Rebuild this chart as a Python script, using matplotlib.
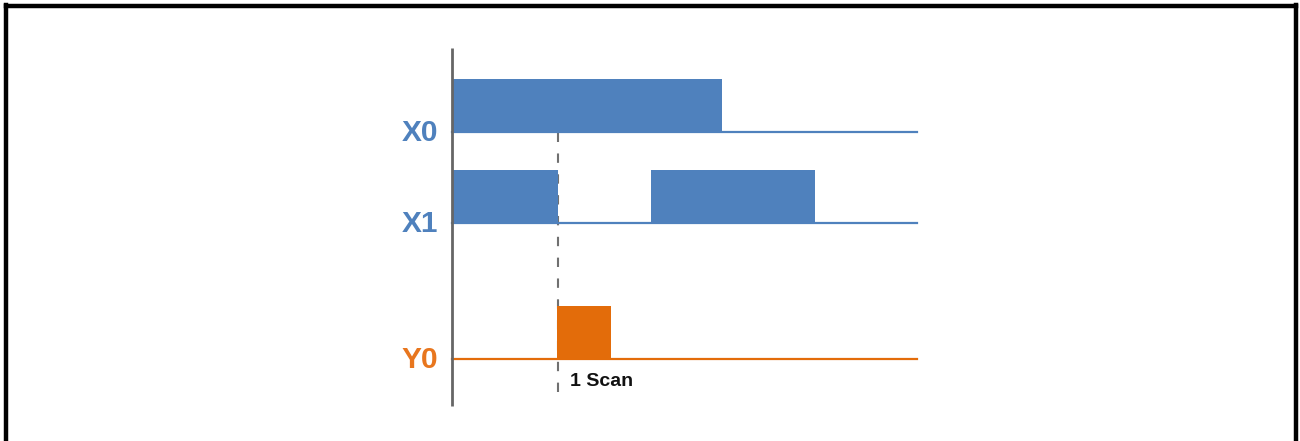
"""
Diagrama de tiempos: X0, X1 y salida Y0 (pulso de 1 scan).
"""

import matplotlib.pyplot as plt
from matplotlib.lines import Line2D

# Señales (tiempo en unidades arbitrarias, estado 0/1)
signals = ["X0", "X1", "Y0"]
times = {
    "X0": [0, 270, 465],
    "X1": [0, 106, 199, 363, 465],
    "Y0": [0, 105, 159, 465],
}
states = {
    "X0": [1, 0, 0],
    "X1": [1, 0, 1, 0, 0],
    "Y0": [0, 1, 0, 0],
}
scan_time = 106
scan_label = "1 Scan"

# Estilo / disposición
blue = "#4F81BD"
orange = "#E36C0A"
colors = {"X0": blue, "X1": blue, "Y0": orange}
label_colors = {"X0": "#4F81BD", "X1": "#4F81BD", "Y0": "#E8761E"}
row_base = {"X0": 309, "X1": 218, "Y0": 82}   # posición vertical de cada fila
amp = 53

fig = plt.figure(figsize=(13, 4.41), dpi=100)
ax = fig.add_axes([0, 0, 1, 1])
ax.set_xlim(-452, 848)
ax.set_ylim(0, 441)
ax.axis("off")

for name in signals:
    t = times[name]
    s = states[name]
    base = row_base[name]
    top = [base + amp * v for v in s]
    ax.fill_between(t, base, top, step="post", color=colors[name], lw=0, zorder=3)
    ax.plot([t[0], t[-1]], [base, base], color=colors[name], lw=1.6, zorder=3)
    ax.text(-14, base - 1, name, color=label_colors[name], fontsize=21.5,
            fontweight="bold", family="Liberation Sans", ha="right", va="center")

# eje vertical
ax.plot([0, 0], [35, 393], color="#666666", lw=2, solid_capstyle="butt", zorder=4)

# línea discontinua del scan (por debajo de los pulsos)
ax.plot([scan_time, scan_time], [49, 308], color="#707070", lw=1.5,
        dashes=(4.5, 5.5), zorder=1)
ax.text(scan_time + 12, 60, scan_label, fontsize=14, fontweight="bold",
        family="Liberation Sans", ha="left", va="center", color="#111111")

# marco
for xs, ys in [([0.0046, 0.0046], [0, 0.988]),
               ([0.0046, 0.9966], [0.9855, 0.9855]),
               ([0.9966, 0.9966], [0, 0.988])]:
    fig.add_artist(Line2D(xs, ys, color="black", lw=3.2,
                          transform=fig.transFigure))

plt.savefig("out.png", dpi=100)
